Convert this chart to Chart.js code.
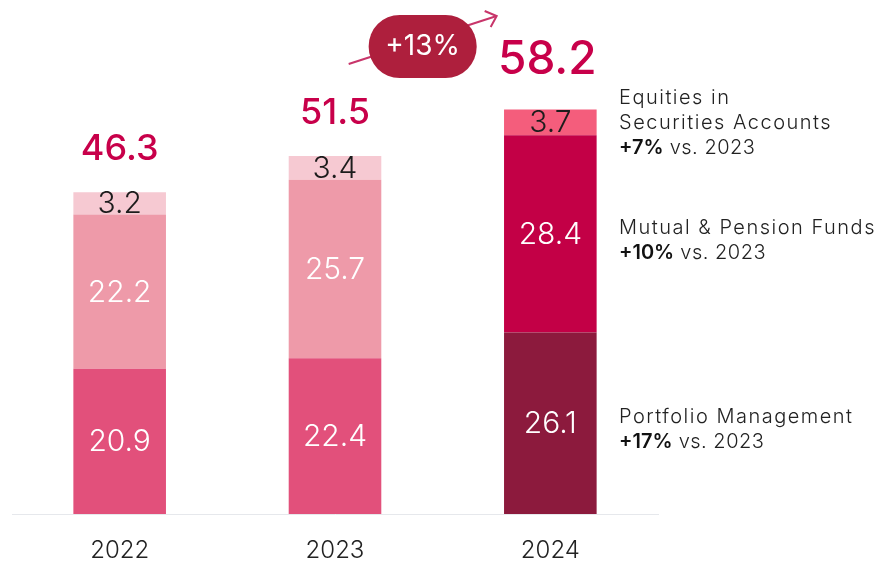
<!DOCTYPE html>
<html>
<head>
<meta charset="utf-8">
<script src="https://cdn.jsdelivr.net/npm/chart.js@4.4.1/dist/chart.umd.min.js"></script>
<style>
	html, body { margin: 0; padding: 0; background: #fff; }
	#wrap { width: 883px; height: 561px; }
</style>
</head>
<body>
<div id="wrap"><canvas id="chartAssets" width="883" height="561"></canvas></div>
<script>
const years = ['2022', '2023', '2024'];
const portfolio = [20.9, 22.4, 26.1];
const funds = [22.2, 25.7, 28.4];
const equities = [3.2, 3.4, 3.7];
const totals = [46.3, 51.5, 58.2];
const growthLabel = '+13%';
const seriesNotes = [
	{ title: ['Portfolio Management'], change: '+17%', rest: ' vs. 2023', shift: 2 },
	{ title: ['Mutual & Pension Funds'], change: '+10%', rest: ' vs. 2023', shift: 3 },
	{ title: ['Equities in', 'Securities Accounts'], change: '+7%', rest: ' vs. 2023', shift: -3 }
];

const FONT = 'Inter';
const crimson = '#c8004a';

const labelsPlugin = {
	id: 'segmentLabels',
	afterDatasetsDraw: (chart) => {
		const {ctx} = chart;
		ctx.save();
		ctx.textAlign = 'center';
		ctx.textBaseline = 'middle';
		chart.data.datasets.forEach((ds, di) => {
			const meta = chart.getDatasetMeta(di);
			meta.data.forEach((bar, i) => {
				const mid = (bar.y + bar.base) / 2;
				ctx.fillStyle = di === 2 ? '#1c1c1c' : '#ffffff';
				ctx.font = '300 30px ' + FONT;
				ctx.fillText(ds.data[i].toFixed(1), bar.x, mid + 1);
			});
		});

		// totals above each bar
		const top = chart.getDatasetMeta(2);
		top.data.forEach((bar, i) => {
			const last = i === totals.length - 1;
			ctx.fillStyle = crimson;
			ctx.font = (last ? '500 46px ' : '500 36px ') + FONT;
			ctx.fillText(totals[i].toFixed(1), bar.x - (last ? 3 : 0), bar.y - (last ? 49 : 43));
		});

		// growth pill and arrow
		const b1 = top.data[1], b2 = top.data[2];
		const cx = (b1.x + b2.x) / 2 - 20;
		const cy = 47;
		ctx.strokeStyle = '#c8356a';
		ctx.lineWidth = 2;
		ctx.beginPath();
		ctx.moveTo(cx - 74, cy + 17);
		ctx.lineTo(cx + 74, cy - 31);
		ctx.stroke();
		ctx.beginPath();
		ctx.moveTo(cx + 62, cy - 36);
		ctx.lineTo(cx + 74, cy - 31);
		ctx.lineTo(cx + 68, cy - 20);
		ctx.stroke();
		ctx.fillStyle = '#ae1f3d';
		ctx.beginPath();
		ctx.roundRect(cx - 54, cy - 32, 108, 63, 31);
		ctx.fill();
		ctx.fillStyle = '#ffffff';
		ctx.font = '400 28px ' + FONT;
		ctx.fillText(growthLabel, cx, cy);

		// series notes next to the last bar
		ctx.textAlign = 'left';
		const lx = chart.chartArea.right - 39;
		const lh = 25;
		chart.data.datasets.forEach((ds, di) => {
			const bar = chart.getDatasetMeta(di).data[2];
			const note = seriesNotes[di];
			const lines = note.title.length + 1;
			let y = (bar.y + bar.base) / 2 + 4 + note.shift - (lines - 1) * lh / 2;
			ctx.letterSpacing = '1.5px';
			ctx.fillStyle = '#222222';
			ctx.font = '300 20px ' + FONT;
			note.title.forEach((t) => {
				ctx.fillText(t, lx, y);
				y += lh;
			});
			ctx.letterSpacing = '0px';
			ctx.font = '600 20px ' + FONT;
			ctx.fillStyle = '#111111';
			ctx.fillText(note.change, lx, y);
			const w = ctx.measureText(note.change).width;
			ctx.letterSpacing = '0.5px';
			ctx.font = '300 20px ' + FONT;
			ctx.fillStyle = '#222222';
			ctx.fillText(note.rest, lx + w, y);
		});
		ctx.restore();
	}
};

const ctxAssets = document.getElementById('chartAssets').getContext('2d');

new Chart(ctxAssets, {
	type: 'bar',
	data: {
		labels: years,
		datasets: [
			{
				label: 'Portfolio Management',
				data: portfolio,
				backgroundColor: ['#e2507b', '#e2507b', '#8c1a3d']
			},
			{
				label: 'Mutual & Pension Funds',
				data: funds,
				backgroundColor: ['#ee9aa9', '#ee9aa9', '#c30046']
			},
			{
				label: 'Equities in Securities Accounts',
				data: equities,
				backgroundColor: ['#f6c9d2', '#f6c9d2', '#f45d7c']
			}
		]
	},
	options: {
		responsive: false,
		animation: false,
		barPercentage: 0.43,
		categoryPercentage: 1,
		layout: {
			padding: { top: 97, left: 12, right: 225, bottom: 0 }
		},
		scales: {
			x: {
				stacked: true,
				grid: { display: false, drawTicks: false },
				border: { display: true, color: '#e6e8ec', width: 1 },
				ticks: {
					padding: 22,
					color: '#222',
					font: { family: FONT, size: 24, weight: '300' }
				},
				afterFit: (scale) => { scale.height = 47; }
			},
			y: {
				stacked: true,
				display: false,
				min: 0,
				max: 60
			}
		},
		plugins: {
			legend: { display: false },
			tooltip: { enabled: false }
		}
	},
	plugins: [labelsPlugin]
});
</script>
</body>
</html>
